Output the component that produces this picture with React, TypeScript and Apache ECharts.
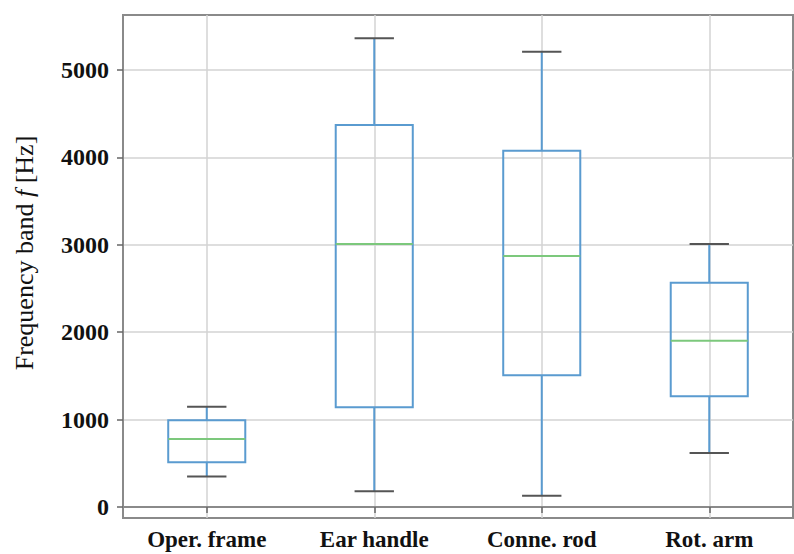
import React, { useEffect, useRef } from "react";
import * as echarts from "echarts";

const categories = ["Oper. frame", "Ear handle", "Conne. rod", "Rot. arm"];
// [low whisker, Q1, median, Q3, high whisker]
const lowWhisker = [350, 180, 130, 618];
const q1 = [511, 1141, 1507, 1266];
const median = [778, 3009, 2872, 1903];
const q3 = [992, 4371, 4077, 2566];
const highWhisker = [1148, 5363, 5210, 3009];
const yTicks = [0, 1000, 2000, 3000, 4000, 5000];

const FONT = "'Liberation Serif', 'DejaVu Serif', serif";
const BLUE = "#5a9bd0";
const GREEN = "#7cc87c";
const CAP = "#555555";

export default function App() {
  const ref = useRef<HTMLDivElement>(null);
  useEffect(() => {
    if (!ref.current) return;
    const chart = echarts.init(ref.current, undefined, { renderer: "svg" });
    const data = categories.map((_, i) => [
      i,
      lowWhisker[i],
      q1[i],
      median[i],
      q3[i],
      highWhisker[i],
    ]);
    chart.setOption({
      animation: false,
      backgroundColor: "#ffffff",
      grid: {
        left: 123,
        right: 1,
        top: 15,
        bottom: 36,
        show: true,
        borderColor: "#8a8a8a",
        borderWidth: 2,
      },
      xAxis: {
        type: "category",
        data: categories,
        boundaryGap: true,
        axisLine: { show: true, lineStyle: { color: "#8a8a8a", width: 2 } },
        axisTick: {
          show: true,
          alignWithLabel: true,
          length: 6,
          lineStyle: { color: "#666", width: 1.5 },
        },
        axisLabel: {
          color: "#111",
          fontFamily: FONT,
          fontSize: 23,
          fontWeight: "bold",
          margin: 10,
        },
        splitLine: {
          show: true,
          alignWithLabel: true,
          lineStyle: { color: "#d3d3d3", width: 1.5 },
        },
      },
      yAxis: {
        type: "value",
        min: -126,
        max: 5630,
        axisLine: { show: true, lineStyle: { color: "#8a8a8a", width: 2 } },
        axisTick: {
          show: true,
          length: 6,
          customValues: yTicks,
          lineStyle: { color: "#666", width: 1.5 },
        },
        axisLabel: {
          color: "#111",
          fontFamily: FONT,
          fontSize: 24,
          fontWeight: "bold",
          margin: 14,
          customValues: yTicks,
          formatter: (v: number) => String(v),
        },
        splitLine: {
          show: true,
          lineStyle: { color: "#d3d3d3", width: 1.5 },
        },
      },
      graphic: [
        {
          type: "text",
          x: 24,
          y: 253,
          rotation: Math.PI / 2,
          style: {
            text: "Frequency band {i|f} [Hz]",
            fontFamily: FONT,
            fontSize: 26,
            fill: "#111",
            align: "center",
            verticalAlign: "middle",
            rich: {
              i: { fontFamily: FONT, fontSize: 26, fontStyle: "italic", fill: "#111" },
            },
          },
        },
      ],
      series: [
        {
          type: "custom",
          data,
          encode: { x: 0, y: [1, 2, 3, 4, 5] },
          renderItem: (params: any, api: any) => {
            const x = api.value(0);
            const pLow = api.coord([x, api.value(1)]);
            const pQ1 = api.coord([x, api.value(2)]);
            const pMed = api.coord([x, api.value(3)]);
            const pQ3 = api.coord([x, api.value(4)]);
            const pHigh = api.coord([x, api.value(5)]);
            const band = api.size([1, 0])[0];
            const boxW = band * 0.46;
            const capW = band * 0.235;
            const cx = pMed[0];
            const line = (x1: number, y1: number, x2: number, y2: number, color: string) => ({
              type: "line",
              shape: { x1, y1, x2, y2 },
              style: { stroke: color, lineWidth: 2 },
            });
            return {
              type: "group",
              children: [
                line(cx, pQ3[1], cx, pHigh[1], BLUE),
                line(cx, pLow[1], cx, pQ1[1], BLUE),
                {
                  type: "rect",
                  shape: { x: cx - boxW / 2, y: pQ3[1], width: boxW, height: pQ1[1] - pQ3[1] },
                  style: { fill: "none", stroke: BLUE, lineWidth: 2 },
                },
                line(cx - boxW / 2, pMed[1], cx + boxW / 2, pMed[1], GREEN),
                line(cx - capW / 2, pHigh[1], cx + capW / 2, pHigh[1], CAP),
                line(cx - capW / 2, pLow[1], cx + capW / 2, pLow[1], CAP),
              ],
            };
          },
        },
      ],
    });
    return () => chart.dispose();
  }, []);
  return <div ref={ref} style={{ width: 794, height: 554, position: "absolute", left: 0, top: 0 }} />;
}
